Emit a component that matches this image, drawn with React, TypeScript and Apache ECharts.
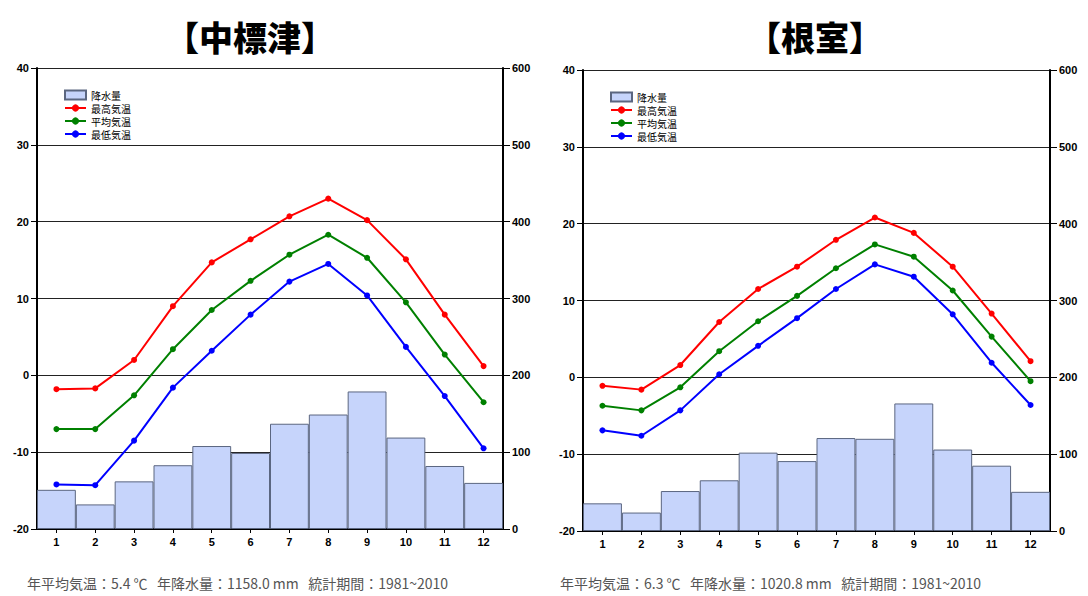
import React, { useEffect, useRef } from "react";
import * as echarts from "echarts";

const months = ["1", "2", "3", "4", "5", "6", "7", "8", "9", "10", "11", "12"];

// 中標津
const nakaPrecip = [51, 32, 62, 83, 108, 99, 137, 149, 179, 119, 82, 60];
const nakaMax = [-1.8, -1.7, 2.0, 9.0, 14.7, 17.7, 20.7, 23.0, 20.2, 15.1, 7.9, 1.2];
const nakaAvg = [-7.0, -7.0, -2.6, 3.4, 8.5, 12.3, 15.7, 18.3, 15.3, 9.5, 2.7, -3.5];
const nakaMin = [-14.2, -14.3, -8.5, -1.6, 3.2, 7.9, 12.2, 14.5, 10.4, 3.7, -2.7, -9.5];

// 根室
const nemuroPrecip = [36, 24, 52, 66, 102, 91, 121, 120, 166, 106, 85, 51];
const nemuroMax = [-1.1, -1.6, 1.6, 7.2, 11.5, 14.4, 17.9, 20.8, 18.8, 14.4, 8.3, 2.1];
const nemuroAvg = [-3.7, -4.3, -1.3, 3.4, 7.3, 10.6, 14.2, 17.3, 15.7, 11.3, 5.3, -0.5];
const nemuroMin = [-6.9, -7.6, -4.3, 0.4, 4.1, 7.7, 11.5, 14.7, 13.1, 8.2, 1.9, -3.6];

const tempTicks = { min: -20, max: 40, interval: 10 };
const precipTicks = { min: 0, max: 600, interval: 100 };

const titles = ["【中標津】", "【根室】"];
const footers = [
  "年平均気温：5.4 ℃   年降水量：1158.0 mm   統計期間：1981~2010",
  "年平均気温：6.3 ℃   年降水量：1020.8 mm   統計期間：1981~2010",
];
const legendNames = ["降水量", "最高気温", "平均気温", "最低気温"];

const JP = '"Noto Sans CJK JP", "Noto Sans", sans-serif';
const LBL = '"Liberation Sans", Arial, sans-serif';

export default function App() {
  const ref = useRef<HTMLDivElement>(null);
  useEffect(() => {
    if (!ref.current) return;
    const chart = echarts.init(ref.current, null, { renderer: "svg" });
    const grids = [
      { left: 37, top: 68, width: 466, height: 461 },
      { left: 583, top: 70, width: 467, height: 461 },
    ];
    const datasets = [
      { p: nakaPrecip, mx: nakaMax, av: nakaAvg, mn: nakaMin },
      { p: nemuroPrecip, mx: nemuroMax, av: nemuroAvg, mn: nemuroMin },
    ];
    const xAxis: any[] = [];
    const yAxis: any[] = [];
    const series: any[] = [];
    const legend: any[] = [];
    const labelStyle = { color: "#000", fontWeight: "bold", fontSize: 11, fontFamily: LBL };
    grids.forEach((g, i) => {
      xAxis.push({
        type: "category",
        gridIndex: i,
        data: months,
        boundaryGap: true,
        axisLine: { show: true, onZero: false, lineStyle: { color: "#000", width: 2 } },
        axisTick: { show: true, alignWithLabel: true, length: 4, lineStyle: { color: "#000" } },
        axisLabel: { ...labelStyle, margin: 7 },
        splitLine: { show: false },
      });
      yAxis.push({
        type: "value",
        gridIndex: i,
        position: "left",
        ...tempTicks,
        axisLine: { show: true, onZero: false, lineStyle: { color: "#000", width: 2 } },
        axisTick: { show: true, length: 6, lineStyle: { color: "#000" } },
        axisLabel: { ...labelStyle, margin: 8 },
        splitLine: { show: true, lineStyle: { color: "#222", width: 1 } },
      });
      yAxis.push({
        type: "value",
        gridIndex: i,
        position: "right",
        ...precipTicks,
        axisLine: { show: true, onZero: false, lineStyle: { color: "#000", width: 2 } },
        axisTick: { show: true, length: 7, lineStyle: { color: "#000" } },
        axisLabel: { ...labelStyle, margin: 9 },
        splitLine: { show: false },
      });
      const d = datasets[i];
      series.push({
        name: "降水量",
        type: "bar",
        xAxisIndex: i,
        yAxisIndex: i * 2 + 1,
        data: d.p,
        barCategoryGap: "0%",
        itemStyle: { color: "#c6d4fb", borderColor: "#5b6680", borderWidth: 1 },
        z: 1,
      });
      const lineDefs = [
        { name: "最高気温", data: d.mx, color: "#ff0000" },
        { name: "平均気温", data: d.av, color: "#008000" },
        { name: "最低気温", data: d.mn, color: "#0000ff" },
      ];
      lineDefs.forEach((l) => {
        series.push({
          name: l.name,
          type: "line",
          xAxisIndex: i,
          yAxisIndex: i * 2,
          data: l.data,
          symbol: "circle",
          symbolSize: 6,
          showSymbol: true,
          lineStyle: { color: l.color, width: 2 },
          itemStyle: { color: l.color },
          z: 3,
        });
      });
      legend.push({
        data: legendNames.map((n, k) => (k === 0 ? { name: n, icon: "rect" } : { name: n })),
        orient: "vertical",
        left: g.left + 22,
        top: g.top + 16,
        itemWidth: 21,
        itemHeight: 9,
        itemGap: 1,
        selectedMode: false,
        textStyle: { fontSize: 10, fontFamily: JP, color: "#000", lineHeight: 12, padding: 0 },
      });
    });

    chart.setOption({
      animation: false,
      backgroundColor: "#fff",
      grid: grids,
      xAxis,
      yAxis,
      series,
      legend,
      graphic: [
        {
          type: "text",
          x: 250,
          y: 36,
          style: {
            text: titles[0],
            font: `900 34px ${JP}`,
            fill: "#000",
            align: "center",
            verticalAlign: "middle",
          },
        },
        {
          type: "text",
          x: 815,
          y: 36,
          style: {
            text: titles[1],
            font: `900 34px ${JP}`,
            fill: "#000",
            align: "center",
            verticalAlign: "middle",
          },
        },
        {
          type: "text",
          x: 27,
          y: 583,
          style: {
            text: footers[0],
            font: `14px ${JP}`,
            fill: "#555",
            align: "left",
            verticalAlign: "middle",
          },
        },
        {
          type: "text",
          x: 560,
          y: 583,
          style: {
            text: footers[1],
            font: `14px ${JP}`,
            fill: "#555",
            align: "left",
            verticalAlign: "middle",
          },
        },
      ],
    });
    return () => chart.dispose();
  }, []);
  return (
    <div
      ref={ref}
      style={{ position: "absolute", left: 0, top: 0, width: 1088, height: 596, background: "#fff" }}
    />
  );
}
